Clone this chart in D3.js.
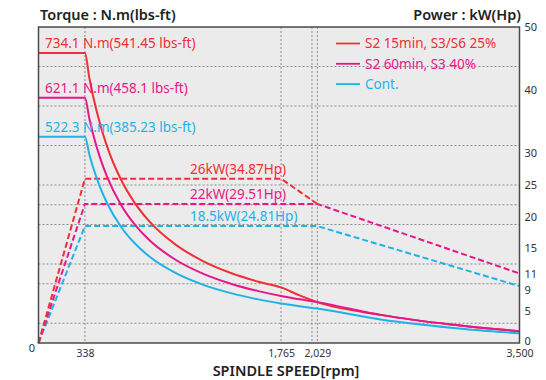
<!DOCTYPE html>
<html>
<head>
<meta charset="utf-8">
<script src="https://cdn.jsdelivr.net/npm/d3@7"></script>
<style>
  body { margin: 0; background: #fff; }
  svg text { font-family: "Noto Sans", "Open Sans", sans-serif; }
</style>
</head>
<body>
<div id="svg-container"></div>
<script>
// data
const rpm = [0, 338, 370, 400, 450, 500, 600, 700, 800, 1000, 1200, 1400, 1600, 1765, 1900, 2029, 2500, 3000, 3500];
const torqueS2_15 = [734.1, 734.1, 671, 620.7, 551.7, 496.5, 413.8, 354.7, 310.3, 248.3, 206.9, 177.3, 155.2, 140.7, 120.4, 103.5, 70.6, 46.9, 30.0];
const torqueS2_60 = [621.1, 621.1, 567.8, 525.2, 466.8, 420.2, 350.1, 300.1, 262.6, 210.1, 175.1, 150.1, 131.3, 119.0, 110.6, 103.5, 70.6, 46.9, 30.0];
const torqueCont = [522.3, 522.3, 477.4, 441.6, 392.6, 353.3, 294.4, 252.4, 220.8, 176.7, 147.2, 126.2, 110.4, 100.1, 93.0, 87.1, 59.0, 38.9, 24.6];

const powerRpmS2_15 = [0, 338, 1765, 2029];
const powerS2_15 = [0, 26, 26, 22];
const powerRpm = [0, 338, 2029, 3500];
const powerS2_60 = [0, 22, 22, 11];
const powerCont = [0, 18.5, 18.5, 9];

const torqueGrid = [50, 150, 200, 300, 350, 400, 500, 600, 700];
const rpmGrid = [338, 1765, 1990, 2029];
const rpmTicks = [338, 1765, 2029, 3500];
const powerTicks = [0, 5, 9, 11, 15, 20, 25, 30, 40, 50];

const series = [
  { name: "S2 15min, S3/S6 25%", color: "#ef2f35", torque: torqueS2_15, prpm: powerRpmS2_15, power: powerS2_15,
    tlabel: "734.1 N.m(541.45 lbs-ft)", plabel: "26kW(34.87Hp)" },
  { name: "S2 60min, S3 40%", color: "#e8168a", torque: torqueS2_60, prpm: powerRpm, power: powerS2_60,
    tlabel: "621.1 N.m(458.1 lbs-ft)", plabel: "22kW(29.51Hp)" },
  { name: "Cont.", color: "#1fb2e8", torque: torqueCont, prpm: powerRpm, power: powerCont,
    tlabel: "522.3 N.m(385.23 lbs-ft)", plabel: "18.5kW(24.81Hp)" },
];

////////////////////////////  Init  ///////////////////////////////
const width = 546, height = 380;
const margin = { top: 27, right: 26.5, bottom: 37, left: 38.5 };

const svg = d3.select("#svg-container").append("svg")
  .attr("width", width).attr("height", height);

const xScale = d3.scaleLinear().domain([0, 3500]).range([margin.left, width - margin.right]);
const yTorque = d3.scaleLinear().domain([0, 800]).range([height - margin.bottom, margin.top]);
const yPower = d3.scaleLinear().domain([0, 50]).range([height - margin.bottom, margin.top]);

// background
svg.append("rect")
  .attr("x", margin.left).attr("y", margin.top)
  .attr("width", xScale(3500) - margin.left)
  .attr("height", yTorque(0) - margin.top)
  .attr("fill", "#ebebeb");

// grid
svg.append("g").selectAll("line").data(torqueGrid).enter().append("line")
  .attr("x1", margin.left).attr("x2", xScale(3500))
  .attr("y1", d => yTorque(d)).attr("y2", d => yTorque(d))
  .attr("stroke", "#8a8a8a").attr("stroke-width", 1).attr("stroke-dasharray", "2,2");

svg.append("g").selectAll("line").data(rpmGrid).enter().append("line")
  .attr("x1", d => xScale(d)).attr("x2", d => xScale(d))
  .attr("y1", margin.top).attr("y2", yTorque(0))
  .attr("stroke", "#8a8a8a").attr("stroke-width", 1).attr("stroke-dasharray", "2,2");

// power (dashed)
const powerLine = d3.line().x(d => xScale(d[0])).y(d => yPower(d[1]));
series.slice().reverse().forEach(s => {
  svg.append("path")
    .datum(d3.zip(s.prpm, s.power))
    .attr("fill", "none").attr("stroke", s.color)
    .attr("stroke-width", 2).attr("stroke-dasharray", "6,3")
    .attr("d", powerLine);
});

// torque (solid)
const torqueLine = d3.line().curve(d3.curveMonotoneX)
  .x(d => xScale(d[0])).y(d => yTorque(d[1]));
series.forEach(s => {
  svg.append("path")
    .datum(d3.zip(rpm, s.torque))
    .attr("fill", "none").attr("stroke", s.color)
    .attr("stroke-width", 2)
    .attr("d", torqueLine);
});

// frame
svg.append("rect")
  .attr("x", margin.left).attr("y", margin.top)
  .attr("width", xScale(3500) - margin.left)
  .attr("height", yTorque(0) - margin.top)
  .attr("fill", "none").attr("stroke", "#4a4a4a").attr("stroke-width", 1.5);

// labels on curves
series.forEach(s => {
  svg.append("text")
    .attr("x", 45).attr("y", yTorque(s.torque[0]) - 5)
    .attr("fill", s.color).attr("font-size", 13.5)
    .text(s.tlabel);
  svg.append("text")
    .attr("x", 190).attr("y", yPower(s.power[1]) - 5)
    .attr("fill", s.color).attr("font-size", 13.5)
    .text(s.plabel);
});

// axes
const xAxis = d3.axisBottom(xScale).tickValues(rpmTicks).tickSize(0).tickPadding(7)
  .tickFormat(d3.format(","));
svg.append("g")
  .attr("transform", `translate(0,${yTorque(0)})`)
  .call(xAxis)
  .call(g => g.select(".domain").remove())
  .selectAll("text").attr("font-size", 10.5).attr("fill", "#333");

const yAxisR = d3.axisRight(yPower).tickValues(powerTicks).tickSize(0).tickPadding(5);
svg.append("g")
  .attr("transform", `translate(${xScale(3500)},0)`)
  .call(yAxisR)
  .call(g => g.select(".domain").remove())
  .selectAll("text").attr("font-size", 11).attr("fill", "#333")
  .attr("dy", d => d === 9 ? "0.7em" : d === 0 ? "0.1em" : "0.32em");

svg.append("text").attr("x", 35).attr("y", yTorque(0) + 9)
  .attr("text-anchor", "end").attr("font-size", 11).attr("fill", "#333").text("0");

// titles
svg.append("text").attr("x", 40).attr("y", 20)
  .attr("font-size", 14.5).attr("font-weight", 600).attr("fill", "#222")
  .text("Torque : N.m(lbs-ft)");
svg.append("text").attr("x", 521).attr("y", 20).attr("text-anchor", "end")
  .attr("font-size", 14.5).attr("font-weight", 600).attr("fill", "#222")
  .text("Power : kW(Hp)");
svg.append("text").attr("x", 286).attr("y", 376).attr("text-anchor", "middle")
  .attr("font-size", 14.5).attr("font-weight", 600).attr("fill", "#222")
  .text("SPINDLE SPEED[rpm]");

// legend
const legend = svg.append("g").selectAll("g").data(series).enter().append("g")
  .attr("transform", (d, i) => `translate(336,${43.5 + i * 20.3})`);
legend.append("line").attr("x1", 0).attr("x2", 24)
  .attr("stroke", d => d.color).attr("stroke-width", 1.8);
legend.append("text").attr("x", 29).attr("y", 0).attr("dy", "0.35em")
  .attr("font-size", 13.5).attr("fill", d => d.color)
  .text(d => d.name);
</script>
</body>
</html>
